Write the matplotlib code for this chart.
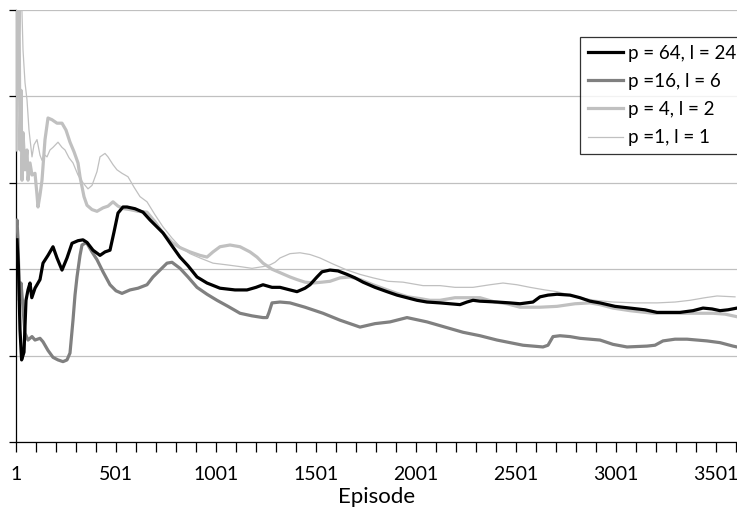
import matplotlib
matplotlib.use('Agg')
import matplotlib.pyplot as plt
import numpy as np

# series (episode, value); y-axis has no labels in the source
ep_64 = [6, 13, 21, 29, 41, 51, 61, 71, 80, 96, 121, 136, 161, 186, 206, 231, 256, 281, 311, 336,
         356, 386, 421, 446, 471, 491, 511, 536, 556, 596, 636, 671, 736, 781, 821, 861, 906, 956,
         1021, 1096, 1156, 1201, 1236, 1281, 1321, 1371, 1406, 1446, 1471, 1506, 1531, 1571, 1611,
         1656, 1696, 1736, 1796, 1856, 1906, 1956, 2006, 2056, 2121, 2171, 2221, 2256, 2286, 2321,
         2406, 2471, 2521, 2586, 2621, 2661, 2706, 2771, 2821, 2871, 2921, 2996, 3071, 3146, 3206,
         3321, 3386, 3436, 3481, 3521, 3561, 3606]
val_64 = [2.34, 2.04, 1.30, 0.95, 1.04, 1.64, 1.76, 1.84, 1.67, 1.78, 1.88, 2.07, 2.16, 2.26, 2.13,
          1.99, 2.13, 2.30, 2.33, 2.34, 2.31, 2.22, 2.16, 2.20, 2.22, 2.43, 2.65, 2.72, 2.72, 2.70,
          2.66, 2.57, 2.42, 2.27, 2.14, 2.04, 1.91, 1.84, 1.78, 1.76, 1.76, 1.79, 1.82, 1.79, 1.79,
          1.76, 1.74, 1.78, 1.82, 1.91, 1.97, 1.99, 1.98, 1.94, 1.90, 1.85, 1.79, 1.74, 1.70, 1.67,
          1.64, 1.62, 1.61, 1.60, 1.59, 1.62, 1.64, 1.63, 1.62, 1.61, 1.60, 1.62, 1.68, 1.70, 1.71,
          1.70, 1.67, 1.63, 1.61, 1.57, 1.55, 1.53, 1.50, 1.50, 1.52, 1.55, 1.54, 1.52, 1.53, 1.55]

ep_16 = [1, 6, 11, 18, 26, 33, 46, 61, 81, 96, 121, 136, 161, 186, 211, 236, 256, 271, 286, 296,
         306, 321, 331, 346, 356, 381, 406, 436, 471, 501, 531, 571, 611, 656, 686, 721, 756, 781,
         821, 861, 906, 956, 1006, 1061, 1121, 1181, 1236, 1256, 1266, 1281, 1321, 1371, 1446, 1536,
         1621, 1721, 1796, 1871, 1956, 2056, 2146, 2236, 2321, 2406, 2471, 2536, 2636, 2661, 2686,
         2721, 2771, 2821, 2871, 2921, 2986, 3056, 3156, 3196, 3236, 3296, 3356, 3456, 3521, 3586,
         3606]
val_16 = [2.45, 2.57, 2.34, 1.64, 1.84, 1.64, 1.26, 1.18, 1.22, 1.18, 1.20, 1.16, 1.06, 0.98, 0.95,
          0.93, 0.95, 1.03, 1.41, 1.70, 1.91, 2.16, 2.28, 2.30, 2.30, 2.20, 2.11, 1.97, 1.82, 1.75,
          1.72, 1.76, 1.78, 1.82, 1.91, 1.99, 2.07, 2.08, 2.01, 1.91, 1.79, 1.71, 1.64, 1.57, 1.49,
          1.46, 1.44, 1.44, 1.50, 1.61, 1.62, 1.61, 1.56, 1.49, 1.41, 1.33, 1.37, 1.39, 1.44, 1.39,
          1.33, 1.27, 1.23, 1.18, 1.15, 1.12, 1.10, 1.12, 1.22, 1.23, 1.22, 1.20, 1.19, 1.18, 1.13,
          1.10, 1.11, 1.12, 1.17, 1.19, 1.19, 1.17, 1.15, 1.11, 1.10]

ep_4 = [1, 6, 11, 16, 21, 26, 31, 36, 46, 56, 61, 71, 81, 96, 106, 111, 121, 131, 146, 161, 181,
        206, 231, 251, 271, 291, 311, 321, 341, 356, 381, 406, 436, 461, 486, 511, 541, 571, 611,
        656, 696, 736, 781, 821, 871, 921, 956, 986, 1021, 1071, 1121, 1171, 1206, 1236, 1281, 1321,
        1371, 1406, 1446, 1486, 1531, 1571, 1621, 1671, 1721, 1786, 1846, 1906, 1961, 2021, 2071,
        2121, 2196, 2286, 2321, 2396, 2456, 2521, 2621, 2706, 2796, 2871, 2921, 2986, 3071, 3186,
        3271, 3371, 3486, 3546, 3606]
val_4 = [3.38, 5.20, 4.42, 5.10, 3.38, 4.07, 3.03, 3.58, 3.15, 3.38, 3.03, 3.23, 3.09, 3.11, 2.86,
         2.72, 2.86, 3.03, 3.50, 3.75, 3.73, 3.69, 3.69, 3.61, 3.47, 3.36, 3.23, 3.07, 2.84, 2.74,
         2.69, 2.67, 2.71, 2.73, 2.78, 2.73, 2.70, 2.69, 2.67, 2.66, 2.55, 2.42, 2.31, 2.25, 2.20,
         2.16, 2.14, 2.20, 2.26, 2.28, 2.26, 2.20, 2.14, 2.07, 2.00, 1.96, 1.91, 1.88, 1.85, 1.84,
         1.85, 1.86, 1.90, 1.91, 1.88, 1.82, 1.77, 1.72, 1.68, 1.66, 1.64, 1.64, 1.67, 1.67, 1.67,
         1.62, 1.60, 1.56, 1.56, 1.57, 1.60, 1.61, 1.59, 1.55, 1.52, 1.49, 1.49, 1.49, 1.49, 1.48,
         1.45]

ep_1 = [1, 11, 16, 26, 31, 36, 46, 56, 66, 81, 91, 106, 121, 131, 146, 156, 171, 186, 211, 231, 246,
        266, 286, 311, 336, 361, 381, 406, 421, 446, 461, 486, 506, 531, 561, 591, 621, 656, 696,
        736, 781, 821, 871, 921, 986, 1056, 1121, 1181, 1236, 1271, 1296, 1321, 1371, 1421, 1471,
        1521, 1586, 1656, 1721, 1786, 1861, 1936, 2036, 2121, 2196, 2286, 2371, 2436, 2506, 2571,
        2646, 2706, 2771, 2821, 2896, 2986, 3096, 3206, 3296, 3371, 3446, 3506, 3596]
val_1 = [3.96, 4.77, 5.30, 5.30, 4.97, 4.54, 4.16, 3.96, 3.61, 3.30, 3.44, 3.50, 3.32, 3.26, 3.32,
         3.30, 3.38, 3.41, 3.47, 3.41, 3.38, 3.29, 3.23, 3.09, 3.00, 2.93, 2.97, 3.13, 3.30, 3.34,
         3.30, 3.21, 3.15, 3.11, 3.07, 2.95, 2.84, 2.78, 2.63, 2.49, 2.36, 2.26, 2.18, 2.13, 2.07,
         2.05, 2.03, 2.01, 2.03, 2.05, 2.08, 2.13, 2.18, 2.19, 2.17, 2.13, 2.06, 1.99, 1.94, 1.90,
         1.86, 1.85, 1.81, 1.81, 1.79, 1.79, 1.82, 1.84, 1.82, 1.79, 1.76, 1.74, 1.70, 1.67, 1.64,
         1.62, 1.61, 1.61, 1.62, 1.64, 1.67, 1.69, 1.68]

labels = ['p = 64, l = 24', 'p =16, l = 6', 'p = 4, l = 2', 'p =1, l = 1']

plt.rcParams['font.family'] = ['Lato', 'DejaVu Sans']

fig = plt.figure(figsize=(7.37, 5.16), dpi=100)
ax = fig.add_axes([16 / 737, 74 / 516, 721 / 737, 432 / 516])

l64, = ax.plot(ep_64, val_64, color='black', lw=2.3, zorder=5)
l16, = ax.plot(ep_16, val_16, color='#808080', lw=2.3, zorder=4)
l4, = ax.plot(ep_4, val_4, color='#c0c0c0', lw=2.3, zorder=3)
l1, = ax.plot(ep_1, val_1, color='#c0c0c0', lw=0.9, zorder=2)

ax.set_xlim(1, 3606)
ax.set_ylim(0, 5)
ax.set_yticks(np.arange(0, 6))
ax.set_yticklabels([])
ax.yaxis.grid(True, color='#c0c0c0', lw=0.9)
ax.set_axisbelow(True)

ax.set_xticks(np.arange(1, 3607, 100), minor=True)
ax.set_xticks(np.arange(1, 3607, 500))
ax.set_xticklabels([str(t) for t in np.arange(1, 3607, 500)], fontsize=14)
ax.tick_params(axis='x', which='both', direction='out', length=7, width=0.9, color='black', pad=10)
ax.tick_params(axis='y', direction='out', length=5, width=0.9, color='black')
ax.set_xlabel('Episode', fontsize=16, labelpad=3)

for side in ['top', 'right']:
    ax.spines[side].set_visible(False)
for side in ['left', 'bottom']:
    ax.spines[side].set_color('black')
    ax.spines[side].set_linewidth(0.9)

leg = fig.legend([l64, l16, l4, l1], labels, loc='upper left',
                 bbox_to_anchor=(580 / 737, 1 - 37 / 516), fontsize=13.5,
                 frameon=True, fancybox=False, handlelength=1.9, handletextpad=0.25,
                 labelspacing=0.6, borderpad=0.4, borderaxespad=0)
leg.get_frame().set_edgecolor('black')
leg.get_frame().set_linewidth(0.9)

fig.savefig('out.png', dpi=100)
